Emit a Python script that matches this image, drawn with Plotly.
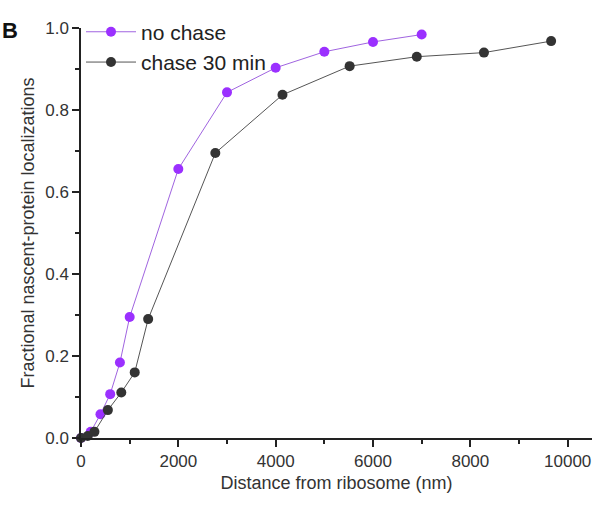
import plotly.graph_objects as go

# Data
no_chase_x = [0, 200, 400, 600, 800, 1000, 2000, 3000, 4000, 5000, 6000, 7000]
no_chase_y = [0.0, 0.015, 0.058, 0.107, 0.184, 0.295, 0.656, 0.843, 0.903, 0.942, 0.966, 0.984]

chase_x = [0, 138, 276, 552, 828, 1104, 1380, 2760, 4140, 5520, 6900, 8280, 9660]
chase_y = [0.0, 0.005, 0.015, 0.068, 0.111, 0.160, 0.290, 0.695, 0.837, 0.907, 0.930, 0.940, 0.968]

x_ticks = [0, 2000, 4000, 6000, 8000, 10000]
y_ticks = [0.0, 0.2, 0.4, 0.6, 0.8, 1.0]

font_family = "Liberation Sans, Arial, sans-serif"

fig = go.Figure()
fig.add_trace(go.Scatter(
    x=no_chase_x, y=no_chase_y, mode="lines+markers", name="no chase",
    line=dict(color="#A064E0", width=1),
    marker=dict(color="#9B30FF", size=10),
    cliponaxis=False,
))
fig.add_trace(go.Scatter(
    x=chase_x, y=chase_y, mode="lines+markers", name="chase 30 min",
    line=dict(color="#555555", width=1),
    marker=dict(color="#333333", size=10),
    cliponaxis=False,
))

axis_common = dict(
    showgrid=False, zeroline=False, showline=True, linecolor="#222222", linewidth=1.5,
    ticks="outside", ticklen=7, tickwidth=1.5, tickcolor="#222222",
    tickfont=dict(family=font_family, size=17, color="#333333"),
)

fig.update_xaxes(
    range=[0, 10500], tickvals=x_ticks, ticktext=[str(v) for v in x_ticks],
    minor=dict(ticks="outside", ticklen=4, tickwidth=1.5, tickcolor="#222222", dtick=1000),
    title=dict(text="Distance from ribosome (nm)", font=dict(family=font_family, size=18, color="#333333"), standoff=6),
    **axis_common,
)
fig.update_yaxes(
    range=[0, 1.0], tickvals=y_ticks, ticktext=[f"{v:.1f}" for v in y_ticks],
    minor=dict(ticks="outside", ticklen=4, tickwidth=1.5, tickcolor="#222222", dtick=0.1),
    title=dict(text="Fractional nascent-protein localizations", font=dict(family=font_family, size=18, color="#333333"), standoff=6),
    **axis_common,
)

fig.update_layout(
    width=605, height=508,
    margin=dict(l=81, r=13, t=26, b=70),
    plot_bgcolor="white", paper_bgcolor="white",
    showlegend=True,
    legend=dict(
        x=0.0, y=1.04, xanchor="left", yanchor="top",
        font=dict(family=font_family, size=21, color="#222222"),
        bgcolor="rgba(0,0,0,0)", tracegroupgap=0, itemwidth=50,
    ),
    annotations=[dict(
        text="<b>B</b>", x=0, y=1, xref="paper", yref="paper",
        xanchor="left", yanchor="top", showarrow=False,
        font=dict(family=font_family, size=22, color="#111111"),
        xshift=-81, yshift=12,
    )],
)

fig.write_html("out.html")
